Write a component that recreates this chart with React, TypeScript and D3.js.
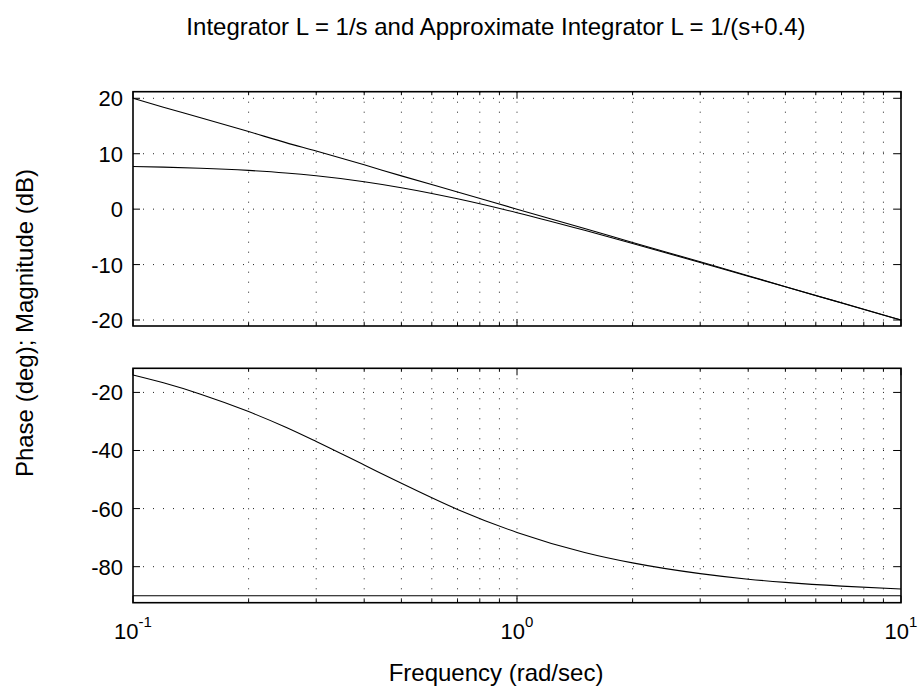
import * as d3 from 'd3';

// ---------------------------------------------------------------------------
// Data
// ---------------------------------------------------------------------------

const FREQ = [0.1, 0.12, 0.15, 0.2, 0.25, 0.3, 0.4, 0.5, 0.7, 1, 1.5, 2, 3, 4, 5, 7, 10];
const MAG_INTEGRATOR = [20, 18.4, 16.5, 14, 12, 10.5, 8, 6, 3.1, 0, -3.5, -6, -9.5, -12, -14, -16.9, -20];
const MAG_APPROX = [7.7, 7.58, 7.39, 6.99, 6.53, 6.02, 4.95, 3.87, 1.87, -0.64, -3.82, -6.19, -9.62, -12.09, -14.01, -16.92, -20.01];
const PHASE_INTEGRATOR = [-90, -90, -90, -90, -90, -90, -90, -90, -90, -90, -90, -90, -90, -90, -90, -90, -90];
const PHASE_APPROX = [-14, -16.7, -20.6, -26.6, -32, -36.9, -45, -51.3, -60.3, -68.2, -75.1, -78.7, -82.4, -84.3, -85.4, -86.7, -87.7];

const MAG_TICKS = [-20, -10, 0, 10, 20];
const PHASE_TICKS = [-80, -60, -40, -20];
const DECADES = [0.1, 1, 10];
const DECADE_LABELS = [['10', '-1'], ['10', '0'], ['10', '1']];

// ---------------------------------------------------------------------------
// Layout
// ---------------------------------------------------------------------------

const W = 920;
const H = 689;
const X0 = 133;
const X1 = 901;
const TOP = { y0: 91.7, y1: 326, domain: [-21.08, 21.19] };
const BOT = { y0: 368.3, y1: 602.7, domain: [-92.4, -11.7] };
const FONT = 'Liberation Sans, Arial, Helvetica, sans-serif';
const LABEL_CX = 496;

const x = d3.scaleLog().domain([0.1, 10]).range([X0, X1]);

// every minor / major tick position along the log axis
const xTicks: { v: number; major: boolean }[] = [];
for (const d of [0.1, 1]) {
  for (let k = 1; k < 10; k++) xTicks.push({ v: d * k, major: k === 1 });
}
xTicks.push({ v: 10, major: true });

type PanelProps = {
  y0: number;
  y1: number;
  domain: number[];
  ticks: number[];
  series: number[][];
};

function Panel({ y0, y1, domain, ticks, series }: PanelProps) {
  const y = d3.scaleLinear().domain(domain).range([y1, y0]);
  const line = d3
    .line<number>()
    .x((_, i) => x(FREQ[i]))
    .y((d) => y(d))
    .curve(d3.curveMonotoneX);

  return (
    <g>
      {/* grid */}
      {xTicks
        .filter((t) => t.v > 0.1 && t.v < 10)
        .map((t) => (
          <line
            key={'gx' + t.v}
            x1={x(t.v)}
            x2={x(t.v)}
            y1={y0}
            y2={y1}
            stroke="#222"
            strokeWidth={1}
            strokeDasharray="1,9"
          />
        ))}
      {ticks.map((t) => (
        <line
          key={'gy' + t}
          x1={X0}
          x2={X1}
          y1={y(t)}
          y2={y(t)}
          stroke="#222"
          strokeWidth={1}
          strokeDasharray="1,9"
        />
      ))}

      {/* curves */}
      {series.map((s, i) => (
        <path key={'s' + i} d={line(s) ?? ''} fill="none" stroke="#000" strokeWidth={1.1} />
      ))}

      {/* ticks */}
      {xTicks.map((t) => {
        const len = t.major ? 7 : 3.5;
        const xp = x(t.v);
        return (
          <g key={'tx' + t.v}>
            <line x1={xp} x2={xp} y1={y1} y2={y1 - len} stroke="#000" strokeWidth={1} />
            <line x1={xp} x2={xp} y1={y0} y2={y0 + len} stroke="#000" strokeWidth={1} />
          </g>
        );
      })}
      {ticks.map((t) => (
        <g key={'ty' + t}>
          <line x1={X0} x2={X0 + 7} y1={y(t)} y2={y(t)} stroke="#000" strokeWidth={1} />
          <line x1={X1} x2={X1 - 7} y1={y(t)} y2={y(t)} stroke="#000" strokeWidth={1} />
          <text
            x={X0 - 10}
            y={y(t)}
            dy="0.36em"
            textAnchor="end"
            fontSize={22}
            fontFamily={FONT}
            fill="#000"
          >
            {t}
          </text>
        </g>
      ))}

      {/* box */}
      <rect x={X0} y={y0} width={X1 - X0} height={y1 - y0} fill="none" stroke="#000" strokeWidth={1.6} />
    </g>
  );
}

export default function App() {
  return (
    <svg
      width={W}
      height={H}
      style={{ position: 'absolute', left: 0, top: 0, background: '#fff' }}
    >
      <rect width={W} height={H} fill="#fff" />

      <text x={LABEL_CX} y={35} textAnchor="middle" fontSize={24} fontFamily={FONT} fill="#000">
        Integrator L = 1/s and Approximate Integrator L = 1/(s+0.4)
      </text>

      <Panel
        y0={TOP.y0}
        y1={TOP.y1}
        domain={TOP.domain}
        ticks={MAG_TICKS}
        series={[MAG_INTEGRATOR, MAG_APPROX]}
      />
      <Panel
        y0={BOT.y0}
        y1={BOT.y1}
        domain={BOT.domain}
        ticks={PHASE_TICKS}
        series={[PHASE_INTEGRATOR, PHASE_APPROX]}
      />

      {/* decade labels */}
      {DECADES.map((d, i) => (
        <text
          key={'xl' + d}
          x={x(d)}
          y={639}
          textAnchor="middle"
          fontSize={22}
          fontFamily={FONT}
          fill="#000"
        >
          <tspan>{DECADE_LABELS[i][0]}</tspan>
          <tspan dy={-12} fontSize={15}>
            {DECADE_LABELS[i][1]}
          </tspan>
        </text>
      ))}

      <text x={LABEL_CX} y={681} textAnchor="middle" fontSize={24} fontFamily={FONT} fill="#000">
        Frequency (rad/sec)
      </text>

      <text
        transform={`translate(33,323) rotate(-90)`}
        textAnchor="middle"
        fontSize={24}
        fontFamily={FONT}
        fill="#000"
      >
        Phase (deg); Magnitude (dB)
      </text>
    </svg>
  );
}
